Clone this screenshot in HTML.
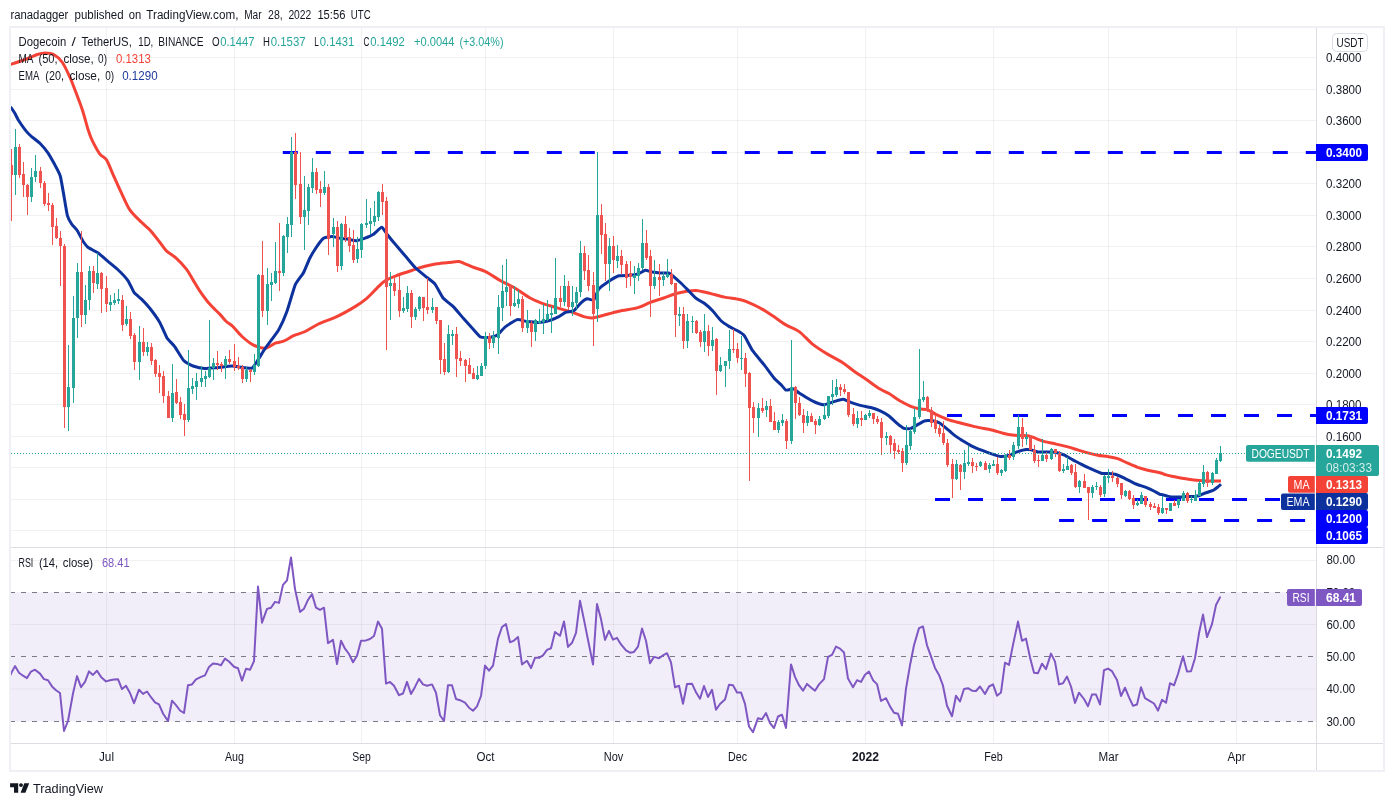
<!DOCTYPE html>
<html><head><meta charset="utf-8"><title>DOGEUSDT</title><style>html,body{margin:0;padding:0;background:#fff;}body{width:1394px;height:806px;overflow:hidden;font-family:"Liberation Sans",sans-serif;}</style></head><body>
<svg width="1394" height="806" viewBox="0 0 1394 806" style="display:block;will-change:transform" font-family="Liberation Sans, sans-serif">
<rect x="0" y="0" width="1394" height="806" fill="#fff"/>
<defs><clipPath id="cp"><rect x="11" y="28" width="1305" height="519"/></clipPath><clipPath id="cr"><rect x="11" y="548" width="1305" height="195"/></clipPath></defs>
<line x1="106.5" y1="28" x2="106.5" y2="743" stroke="#2a2e39" stroke-opacity="0.065" stroke-width="1"/>
<line x1="234.5" y1="28" x2="234.5" y2="743" stroke="#2a2e39" stroke-opacity="0.065" stroke-width="1"/>
<line x1="361.5" y1="28" x2="361.5" y2="743" stroke="#2a2e39" stroke-opacity="0.065" stroke-width="1"/>
<line x1="485.5" y1="28" x2="485.5" y2="743" stroke="#2a2e39" stroke-opacity="0.065" stroke-width="1"/>
<line x1="613.5" y1="28" x2="613.5" y2="743" stroke="#2a2e39" stroke-opacity="0.065" stroke-width="1"/>
<line x1="737.5" y1="28" x2="737.5" y2="743" stroke="#2a2e39" stroke-opacity="0.065" stroke-width="1"/>
<line x1="865.5" y1="28" x2="865.5" y2="743" stroke="#2a2e39" stroke-opacity="0.065" stroke-width="1"/>
<line x1="993.5" y1="28" x2="993.5" y2="743" stroke="#2a2e39" stroke-opacity="0.065" stroke-width="1"/>
<line x1="1108.5" y1="28" x2="1108.5" y2="743" stroke="#2a2e39" stroke-opacity="0.065" stroke-width="1"/>
<line x1="1236.5" y1="28" x2="1236.5" y2="743" stroke="#2a2e39" stroke-opacity="0.065" stroke-width="1"/>
<line x1="11" y1="57.5" x2="1316" y2="57.5" stroke="#2a2e39" stroke-opacity="0.065" stroke-width="1"/>
<line x1="11" y1="89.5" x2="1316" y2="89.5" stroke="#2a2e39" stroke-opacity="0.065" stroke-width="1"/>
<line x1="11" y1="120.5" x2="1316" y2="120.5" stroke="#2a2e39" stroke-opacity="0.065" stroke-width="1"/>
<line x1="11" y1="152.5" x2="1316" y2="152.5" stroke="#2a2e39" stroke-opacity="0.065" stroke-width="1"/>
<line x1="11" y1="183.5" x2="1316" y2="183.5" stroke="#2a2e39" stroke-opacity="0.065" stroke-width="1"/>
<line x1="11" y1="215.5" x2="1316" y2="215.5" stroke="#2a2e39" stroke-opacity="0.065" stroke-width="1"/>
<line x1="11" y1="246.5" x2="1316" y2="246.5" stroke="#2a2e39" stroke-opacity="0.065" stroke-width="1"/>
<line x1="11" y1="278.5" x2="1316" y2="278.5" stroke="#2a2e39" stroke-opacity="0.065" stroke-width="1"/>
<line x1="11" y1="310.5" x2="1316" y2="310.5" stroke="#2a2e39" stroke-opacity="0.065" stroke-width="1"/>
<line x1="11" y1="341.5" x2="1316" y2="341.5" stroke="#2a2e39" stroke-opacity="0.065" stroke-width="1"/>
<line x1="11" y1="373.5" x2="1316" y2="373.5" stroke="#2a2e39" stroke-opacity="0.065" stroke-width="1"/>
<line x1="11" y1="404.5" x2="1316" y2="404.5" stroke="#2a2e39" stroke-opacity="0.065" stroke-width="1"/>
<line x1="11" y1="436.5" x2="1316" y2="436.5" stroke="#2a2e39" stroke-opacity="0.065" stroke-width="1"/>
<line x1="11" y1="467.5" x2="1316" y2="467.5" stroke="#2a2e39" stroke-opacity="0.065" stroke-width="1"/>
<line x1="11" y1="499.5" x2="1316" y2="499.5" stroke="#2a2e39" stroke-opacity="0.065" stroke-width="1"/>
<line x1="11" y1="530.5" x2="1316" y2="530.5" stroke="#2a2e39" stroke-opacity="0.065" stroke-width="1"/>
<line x1="11" y1="560.5" x2="1316" y2="560.5" stroke="#2a2e39" stroke-opacity="0.065" stroke-width="1"/>
<line x1="11" y1="624.5" x2="1316" y2="624.5" stroke="#2a2e39" stroke-opacity="0.065" stroke-width="1"/>
<line x1="11" y1="689.0" x2="1316" y2="689.0" stroke="#2a2e39" stroke-opacity="0.065" stroke-width="1"/>
<rect x="11" y="592.3" width="1305" height="129.0" fill="#7e57c2" fill-opacity="0.1"/>
<line x1="10" y1="592.5" x2="1316" y2="592.5" stroke="#787b86" stroke-width="1" stroke-dasharray="5 6"/>
<line x1="10" y1="656.5" x2="1316" y2="656.5" stroke="#787b86" stroke-width="1" stroke-dasharray="5 6"/>
<line x1="10" y1="721.5" x2="1316" y2="721.5" stroke="#787b86" stroke-width="1" stroke-dasharray="5 6"/>
<line x1="282.8" y1="152.5" x2="1316" y2="152.5" stroke="#0000ff" stroke-width="3" stroke-dasharray="15 18" clip-path="url(#cp)"/>
<line x1="947.0" y1="415.5" x2="1316" y2="415.5" stroke="#0000ff" stroke-width="3" stroke-dasharray="15 18" clip-path="url(#cp)"/>
<line x1="935" y1="499.5" x2="1316" y2="499.5" stroke="#0000ff" stroke-width="3" stroke-dasharray="15 18" clip-path="url(#cp)"/>
<line x1="1059.1" y1="520.5" x2="1305.5" y2="520.5" stroke="#0000ff" stroke-width="3" stroke-dasharray="15 18" clip-path="url(#cp)"/>
<path d="M10.5,64.4C12.7,63.7 21.0,61.0 25.0,59.5C29.0,58.0 34.4,55.5 37.4,54.5C40.4,53.5 42.6,53.0 45.0,53.0C47.4,53.0 51.1,53.1 53.7,54.5C56.3,55.9 60.0,59.1 62.4,62.5C64.8,65.9 68.1,73.3 70.0,77.4C71.9,81.5 73.1,85.1 75.0,90.0C76.9,94.9 80.4,104.0 82.4,110.0C84.4,116.0 86.7,125.4 88.2,130.0C89.7,134.6 90.6,137.2 92.4,140.8C94.2,144.4 97.8,151.2 99.9,154.1C102.0,157.0 104.5,156.8 106.5,159.9C108.5,163.0 111.0,169.9 113.2,174.9C115.5,179.9 119.0,187.9 121.5,193.2C124.0,198.4 126.8,205.5 129.8,209.9C132.8,214.3 138.4,219.2 141.5,222.3C144.6,225.4 147.9,227.7 150.6,230.7C153.3,233.7 157.4,239.3 159.8,242.3C162.2,245.3 163.9,248.4 166.4,250.8C168.9,253.2 173.4,255.6 176.4,258.3C179.4,261.0 183.9,265.9 186.4,269.1C188.9,272.3 191.0,276.6 193.0,279.9C195.0,283.2 197.2,287.2 199.7,290.8C202.2,294.4 206.7,300.6 209.7,304.1C212.7,307.6 217.2,311.5 219.7,314.1C222.2,316.7 224.5,319.8 226.3,321.5C228.1,323.2 229.6,323.4 232.0,325.7C234.4,327.9 238.8,333.6 242.0,336.5C245.2,339.4 250.1,343.4 253.6,345.2C257.1,347.0 262.0,348.5 265.3,348.2C268.6,347.9 272.6,344.2 275.3,343.2C278.0,342.1 280.9,342.3 283.6,341.2C286.3,340.1 290.4,337.2 293.6,335.7C296.8,334.2 301.5,333.3 305.2,331.5C308.9,329.7 313.8,326.2 318.5,324.0C323.2,321.8 331.3,319.2 336.8,316.6C342.3,314.0 350.6,309.3 355.1,306.6C359.6,303.9 363.5,301.0 366.8,298.3C370.1,295.6 374.1,290.9 376.8,288.3C379.5,285.7 382.2,282.7 385.1,280.8C388.0,278.9 391.9,277.3 395.9,275.8C399.9,274.3 407.3,271.9 411.7,270.5C416.1,269.1 421.2,267.3 425.0,266.3C428.8,265.3 433.2,264.4 436.7,263.8C440.2,263.2 445.1,262.8 448.3,262.5C451.5,262.2 455.9,261.5 458.3,261.6C460.7,261.7 461.6,262.4 464.0,263.3C466.4,264.2 470.8,266.3 474.0,267.5C477.2,268.7 481.6,269.6 485.6,271.6C489.6,273.6 496.4,278.4 500.6,280.8C504.8,283.2 509.4,284.9 513.9,287.5C518.4,290.1 526.4,295.9 530.6,298.3C534.8,300.7 538.2,301.9 542.2,303.3C546.2,304.7 552.7,306.5 557.2,307.9C561.7,309.3 568.2,311.1 572.2,312.4C576.2,313.7 580.8,315.8 583.8,316.6C586.8,317.4 589.4,318.0 592.1,317.9C594.8,317.8 598.1,316.7 602.1,315.7C606.1,314.7 613.5,312.4 618.8,311.2C624.0,310.0 632.4,309.2 637.1,307.9C641.8,306.6 646.4,303.9 650.4,302.4C654.4,300.9 660.0,299.3 663.7,298.0C667.4,296.7 671.8,294.8 675.3,293.8C678.8,292.8 683.9,291.8 687.0,291.3C690.1,290.8 693.4,290.3 696.0,290.4C698.6,290.5 701.8,291.4 704.3,292.0C706.8,292.6 709.6,293.3 712.6,294.1C715.6,294.9 720.5,296.4 724.3,297.1C728.0,297.9 734.4,298.5 737.6,299.1C740.8,299.7 742.7,300.0 745.9,301.3C749.1,302.6 755.2,305.3 759.2,307.5C763.2,309.7 768.6,313.2 772.6,315.8C776.6,318.4 781.9,322.5 785.9,324.9C789.9,327.3 795.2,328.7 799.2,331.6C803.2,334.5 808.3,340.7 812.5,344.1C816.7,347.5 823.0,351.4 827.5,354.1C832.0,356.8 838.4,359.8 842.4,362.4C846.4,365.0 850.6,368.7 854.1,371.2C857.6,373.7 862.0,376.4 865.7,379.0C869.5,381.6 875.6,386.3 879.1,388.5C882.6,390.7 885.8,391.6 889.0,393.5C892.2,395.4 897.4,399.4 900.7,401.3C904.0,403.2 908.0,405.2 910.7,406.3C913.4,407.4 916.4,408.2 919.0,408.8C921.6,409.4 925.4,409.1 928.0,410.0C930.6,410.9 933.3,413.2 936.3,414.6C939.3,416.0 944.2,418.3 948.0,419.6C951.8,420.9 957.3,422.2 961.3,423.3C965.3,424.4 969.9,425.6 974.6,426.6C979.3,427.7 988.7,429.3 992.9,430.3C997.1,431.3 999.7,432.6 1002.9,433.3C1006.1,434.1 1010.8,434.9 1014.5,435.3C1018.2,435.7 1024.6,435.3 1027.9,435.8C1031.2,436.3 1033.7,437.7 1036.2,438.6C1038.7,439.5 1041.5,440.8 1044.5,441.6C1047.5,442.4 1052.6,443.3 1056.1,444.1C1059.6,444.9 1064.5,446.0 1067.8,446.9C1071.1,447.8 1074.8,449.0 1077.8,449.9C1080.8,450.8 1084.8,452.1 1087.8,452.9C1090.8,453.7 1094.7,454.6 1097.7,455.2C1100.7,455.8 1104.7,456.1 1107.7,456.6C1110.7,457.1 1114.7,457.7 1117.7,458.7C1120.7,459.7 1124.7,461.9 1127.7,463.2C1130.7,464.5 1134.7,466.3 1137.7,467.4C1140.7,468.4 1144.4,469.4 1147.7,470.2C1151.0,471.0 1157.3,472.0 1160.0,472.7C1162.7,473.4 1163.7,474.3 1165.9,474.9C1168.1,475.5 1171.7,476.2 1174.4,476.8C1177.1,477.4 1181.2,478.1 1184.1,478.6C1187.0,479.1 1191.0,479.6 1193.9,479.9C1196.8,480.2 1200.8,480.6 1203.7,480.8C1206.6,481.0 1210.8,481.1 1213.4,481.1C1216.0,481.1 1219.9,481.1 1221.0,481.1" fill="none" stroke="#f44336" stroke-width="3" stroke-linejoin="round" stroke-linecap="butt" clip-path="url(#cp)"/>
<path d="M10.5,106.9C10.9,107.4 14.4,112.6 15.0,113.6C15.6,114.6 17.4,118.6 18.3,120.0C19.2,121.4 25.5,130.3 26.6,131.6C27.7,132.9 30.5,135.7 31.6,136.6C32.7,137.5 38.6,142.0 39.9,143.3C41.2,144.6 47.1,151.6 48.3,153.3C49.5,155.0 53.9,163.1 54.9,164.9C55.9,166.7 59.5,173.6 60.2,175.7C60.9,177.8 62.6,188.4 63.2,191.6C63.8,194.8 66.7,213.1 67.4,215.7C68.1,218.3 70.8,222.8 71.6,224.0C72.4,225.2 76.5,229.3 77.4,230.7C78.3,232.1 82.3,240.2 83.2,241.5C84.1,242.8 87.0,246.6 88.2,247.5C89.4,248.4 96.6,251.9 98.2,253.0C99.8,254.1 106.6,260.2 108.2,261.6C109.8,263.0 116.6,268.5 118.2,270.0C119.8,271.5 126.8,279.0 128.1,280.8C129.4,282.6 132.9,290.9 134.0,292.4C135.1,293.9 140.2,297.8 141.5,299.1C142.8,300.4 148.3,306.3 149.8,308.2C151.3,310.1 158.4,320.0 159.8,322.4C161.2,324.8 166.0,336.3 167.2,338.2C168.4,340.1 173.4,344.8 174.7,346.6C176.0,348.4 182.4,359.2 183.9,360.8C185.4,362.4 191.3,365.4 193.0,366.0C194.7,366.6 202.8,368.5 204.7,368.6C206.6,368.7 214.1,367.9 216.3,367.7C218.5,367.5 229.9,366.0 232.0,366.0C234.1,366.0 240.4,367.4 242.0,367.6C243.6,367.8 250.8,368.6 252.0,368.1C253.2,367.6 255.9,363.1 257.0,361.5C258.1,359.9 263.6,350.7 265.3,348.2C267.0,345.7 276.9,332.8 278.6,329.9C280.3,327.0 285.6,315.2 286.9,311.6C288.2,308.0 293.9,288.0 295.2,284.9C296.5,281.8 302.5,274.6 303.6,272.5C304.7,270.4 308.5,260.9 309.4,259.0C310.3,257.1 314.1,250.7 315.2,249.0C316.3,247.3 322.2,239.2 323.5,238.2C324.8,237.2 330.6,236.5 331.9,236.5C333.2,236.5 338.9,238.0 340.2,238.2C341.5,238.4 347.2,239.1 348.5,239.3C349.8,239.5 355.5,240.8 356.8,240.7C358.1,240.6 363.8,238.7 365.1,238.2C366.4,237.7 372.2,235.2 373.5,234.3C374.8,233.4 380.7,227.3 381.8,227.3C382.9,227.3 385.7,232.6 386.8,234.0C387.9,235.4 394.0,242.8 395.5,244.5C397.0,246.2 403.5,254.0 405.1,255.8C406.7,257.6 413.4,265.8 415.1,267.5C416.8,269.2 424.3,275.3 425.9,276.6C427.5,277.9 433.6,282.4 435.0,284.1C436.4,285.8 441.8,296.5 443.3,298.3C444.8,300.1 451.6,304.9 453.3,306.6C455.0,308.3 462.5,317.4 464.0,319.1C465.5,320.8 471.0,326.8 472.3,328.2C473.6,329.6 479.3,336.3 480.6,337.0C481.9,337.7 487.7,337.6 489.0,337.4C490.3,337.2 496.0,335.8 497.3,334.9C498.6,334.0 504.0,327.8 505.6,326.6C507.2,325.4 515.6,320.0 517.3,319.6C519.0,319.2 525.5,321.4 527.2,321.6C528.9,321.8 537.0,322.5 538.9,322.4C540.8,322.3 548.9,320.7 550.5,320.2C552.1,319.7 557.7,317.2 558.9,316.6C560.1,316.0 564.3,312.9 565.5,312.4C566.7,311.9 572.6,311.5 573.8,310.8C575.0,310.1 579.4,304.3 580.5,303.3C581.6,302.3 586.0,299.1 587.1,298.8C588.2,298.5 592.9,300.7 593.8,299.9C594.7,299.1 597.7,290.5 598.8,289.1C599.9,287.7 605.5,283.6 607.1,282.5C608.7,281.4 616.9,276.4 618.8,275.8C620.7,275.2 628.8,275.5 630.4,275.3C632.0,275.1 637.5,274.0 638.7,273.6C639.9,273.2 644.3,270.4 645.4,270.3C646.5,270.2 650.8,271.8 652.0,272.0C653.2,272.2 659.1,272.9 660.4,273.0C661.7,273.1 667.6,272.7 668.7,273.0C669.8,273.3 672.8,275.8 673.7,276.6C674.6,277.4 679.2,281.5 680.3,282.5C681.4,283.5 685.7,287.8 687.0,289.1C688.3,290.4 694.6,297.2 696.0,298.3C697.4,299.4 703.0,302.3 704.3,303.3C705.6,304.3 711.3,309.4 712.6,310.8C713.9,312.2 719.7,319.5 721.0,320.8C722.3,322.1 728.0,325.8 729.3,326.6C730.6,327.4 736.4,330.1 737.6,330.8C738.8,331.5 743.1,334.1 744.3,335.7C745.5,337.3 751.0,348.4 752.6,350.7C754.2,353.0 762.5,362.7 764.2,364.9C765.9,367.1 772.9,376.6 774.2,378.2C775.5,379.8 780.0,383.5 780.9,384.5C781.8,385.5 784.9,389.7 785.9,390.1C786.9,390.5 792.4,388.9 793.5,389.1C794.6,389.3 798.2,392.4 799.2,393.0C800.2,393.6 804.2,396.2 805.5,397.0C806.8,397.8 814.3,401.9 815.8,402.5C817.3,403.1 822.6,404.9 824.1,404.8C825.6,404.7 832.6,402.0 834.1,401.6C835.6,401.2 842.0,399.2 843.3,399.3C844.6,399.4 849.3,401.9 850.8,402.4C852.3,402.9 860.7,405.5 862.4,405.9C864.1,406.3 870.9,407.6 872.4,408.0C873.9,408.4 879.4,410.5 880.7,411.1C882.0,411.7 887.7,415.0 889.0,416.0C890.3,417.0 896.2,422.6 897.4,423.6C898.6,424.6 902.9,427.9 904.0,428.3C905.1,428.7 909.6,428.9 910.7,428.6C911.8,428.3 916.2,425.5 917.3,424.9C918.4,424.3 923.1,421.5 924.0,421.1C924.9,420.7 927.3,420.4 928.0,420.4C928.7,420.4 932.1,420.6 933.0,420.8C933.9,421.0 938.5,422.4 939.6,423.0C940.7,423.6 945.2,427.4 946.3,428.3C947.4,429.2 951.8,433.2 953.0,434.1C954.2,435.0 959.8,439.0 961.3,439.9C962.8,440.8 969.6,444.9 971.3,445.8C973.0,446.7 981.0,450.0 982.9,450.7C984.8,451.4 993.1,454.4 994.6,454.9C996.1,455.4 1000.0,456.6 1001.2,456.6C1002.4,456.6 1008.2,455.6 1009.5,455.2C1010.8,454.8 1016.6,452.0 1017.9,451.6C1019.2,451.2 1025.1,449.7 1026.2,449.6C1027.3,449.5 1030.3,449.7 1031.2,449.9C1032.1,450.1 1036.5,451.7 1037.8,451.9C1039.1,452.1 1046.3,452.1 1047.8,452.1C1049.3,452.1 1054.8,452.2 1056.1,452.4C1057.4,452.6 1063.2,454.6 1064.5,455.2C1065.8,455.8 1071.5,459.2 1072.8,459.9C1074.1,460.6 1079.8,463.4 1081.1,464.1C1082.4,464.8 1087.8,467.5 1089.4,468.2C1091.0,468.9 1099.5,472.8 1101.1,473.2C1102.7,473.6 1108.2,473.4 1109.4,473.5C1110.6,473.6 1114.8,474.1 1116.0,474.5C1117.2,474.9 1122.8,477.4 1124.4,478.2C1126.0,479.0 1134.3,483.3 1136.0,484.0C1137.7,484.7 1144.5,486.8 1146.0,487.4C1147.5,488.0 1153.2,490.6 1154.3,491.2C1155.4,491.8 1159.4,494.1 1160.0,494.4C1160.6,494.7 1161.5,494.4 1162.2,494.6C1162.9,494.8 1167.3,496.2 1168.3,496.4C1169.3,496.6 1173.4,497.0 1174.4,497.0C1175.4,497.0 1179.5,497.0 1180.5,497.0C1181.5,497.0 1185.5,496.6 1186.6,496.6C1187.7,496.6 1192.9,496.5 1193.9,496.4C1194.9,496.3 1198.0,496.0 1198.8,495.8C1199.6,495.6 1202.9,493.9 1203.7,493.6C1204.5,493.3 1207.7,492.3 1208.5,492.0C1209.3,491.7 1212.7,490.7 1213.4,490.3C1214.1,489.9 1216.5,488.0 1217.1,487.5C1217.7,487.0 1220.7,484.5 1221.0,484.2" fill="none" stroke="#0d329d" stroke-width="3" stroke-linejoin="round" stroke-linecap="butt" clip-path="url(#cp)"/>
<g clip-path="url(#cp)" shape-rendering="crispEdges">
<rect x="11" y="149" width="1" height="72" fill="#ef5350"/>
<rect x="10" y="165" width="3" height="10" fill="#ef5350"/>
<rect x="15" y="129" width="1" height="66" fill="#26a69a"/>
<rect x="14" y="147" width="3" height="28" fill="#26a69a"/>
<rect x="19" y="144" width="1" height="34" fill="#ef5350"/>
<rect x="18" y="147" width="3" height="28" fill="#ef5350"/>
<rect x="23" y="162" width="1" height="35" fill="#ef5350"/>
<rect x="22" y="174" width="3" height="11" fill="#ef5350"/>
<rect x="27" y="184" width="1" height="31" fill="#ef5350"/>
<rect x="26" y="185" width="3" height="12" fill="#ef5350"/>
<rect x="31" y="168" width="1" height="34" fill="#26a69a"/>
<rect x="30" y="177" width="3" height="20" fill="#26a69a"/>
<rect x="35" y="155" width="1" height="27" fill="#26a69a"/>
<rect x="34" y="171" width="3" height="6" fill="#26a69a"/>
<rect x="40" y="167" width="1" height="21" fill="#ef5350"/>
<rect x="39" y="171" width="3" height="12" fill="#ef5350"/>
<rect x="44" y="181" width="1" height="25" fill="#ef5350"/>
<rect x="43" y="183" width="3" height="21" fill="#ef5350"/>
<rect x="48" y="193" width="1" height="18" fill="#ef5350"/>
<rect x="47" y="203" width="3" height="2" fill="#ef5350"/>
<rect x="52" y="203" width="1" height="42" fill="#ef5350"/>
<rect x="51" y="205" width="3" height="22" fill="#ef5350"/>
<rect x="56" y="218" width="1" height="21" fill="#ef5350"/>
<rect x="55" y="226" width="3" height="12" fill="#ef5350"/>
<rect x="60" y="231" width="1" height="55" fill="#ef5350"/>
<rect x="59" y="238" width="3" height="8" fill="#ef5350"/>
<rect x="64" y="244" width="1" height="184" fill="#ef5350"/>
<rect x="63" y="246" width="3" height="161" fill="#ef5350"/>
<rect x="68" y="345" width="1" height="86" fill="#26a69a"/>
<rect x="67" y="387" width="3" height="20" fill="#26a69a"/>
<rect x="73" y="296" width="1" height="107" fill="#26a69a"/>
<rect x="72" y="318" width="3" height="70" fill="#26a69a"/>
<rect x="77" y="263" width="1" height="75" fill="#26a69a"/>
<rect x="76" y="272" width="3" height="46" fill="#26a69a"/>
<rect x="81" y="231" width="1" height="96" fill="#ef5350"/>
<rect x="80" y="272" width="3" height="43" fill="#ef5350"/>
<rect x="85" y="285" width="1" height="39" fill="#26a69a"/>
<rect x="84" y="300" width="3" height="15" fill="#26a69a"/>
<rect x="89" y="266" width="1" height="44" fill="#26a69a"/>
<rect x="88" y="271" width="3" height="29" fill="#26a69a"/>
<rect x="93" y="266" width="1" height="27" fill="#ef5350"/>
<rect x="92" y="271" width="3" height="12" fill="#ef5350"/>
<rect x="97" y="253" width="1" height="36" fill="#26a69a"/>
<rect x="96" y="273" width="3" height="11" fill="#26a69a"/>
<rect x="101" y="272" width="1" height="41" fill="#ef5350"/>
<rect x="100" y="273" width="3" height="16" fill="#ef5350"/>
<rect x="106" y="276" width="1" height="36" fill="#ef5350"/>
<rect x="105" y="288" width="3" height="16" fill="#ef5350"/>
<rect x="110" y="295" width="1" height="16" fill="#26a69a"/>
<rect x="109" y="302" width="3" height="3" fill="#26a69a"/>
<rect x="114" y="293" width="1" height="12" fill="#26a69a"/>
<rect x="113" y="300" width="3" height="3" fill="#26a69a"/>
<rect x="118" y="289" width="1" height="15" fill="#26a69a"/>
<rect x="117" y="299" width="3" height="2" fill="#26a69a"/>
<rect x="122" y="295" width="1" height="36" fill="#ef5350"/>
<rect x="121" y="300" width="3" height="25" fill="#ef5350"/>
<rect x="126" y="306" width="1" height="20" fill="#26a69a"/>
<rect x="125" y="319" width="3" height="5" fill="#26a69a"/>
<rect x="130" y="312" width="1" height="27" fill="#ef5350"/>
<rect x="129" y="319" width="3" height="17" fill="#ef5350"/>
<rect x="134" y="333" width="1" height="37" fill="#ef5350"/>
<rect x="133" y="335" width="3" height="27" fill="#ef5350"/>
<rect x="139" y="326" width="1" height="54" fill="#26a69a"/>
<rect x="138" y="342" width="3" height="20" fill="#26a69a"/>
<rect x="143" y="328" width="1" height="28" fill="#ef5350"/>
<rect x="142" y="342" width="3" height="10" fill="#ef5350"/>
<rect x="147" y="342" width="1" height="14" fill="#26a69a"/>
<rect x="146" y="347" width="3" height="5" fill="#26a69a"/>
<rect x="151" y="343" width="1" height="22" fill="#ef5350"/>
<rect x="150" y="347" width="3" height="14" fill="#ef5350"/>
<rect x="155" y="359" width="1" height="18" fill="#ef5350"/>
<rect x="154" y="360" width="3" height="14" fill="#ef5350"/>
<rect x="159" y="365" width="1" height="28" fill="#ef5350"/>
<rect x="158" y="373" width="3" height="4" fill="#ef5350"/>
<rect x="163" y="371" width="1" height="32" fill="#ef5350"/>
<rect x="162" y="376" width="3" height="20" fill="#ef5350"/>
<rect x="168" y="391" width="1" height="27" fill="#ef5350"/>
<rect x="167" y="396" width="3" height="22" fill="#ef5350"/>
<rect x="172" y="364" width="1" height="58" fill="#26a69a"/>
<rect x="171" y="393" width="3" height="25" fill="#26a69a"/>
<rect x="176" y="379" width="1" height="25" fill="#ef5350"/>
<rect x="175" y="392" width="3" height="11" fill="#ef5350"/>
<rect x="180" y="397" width="1" height="22" fill="#ef5350"/>
<rect x="179" y="402" width="3" height="13" fill="#ef5350"/>
<rect x="184" y="404" width="1" height="32" fill="#ef5350"/>
<rect x="183" y="414" width="3" height="6" fill="#ef5350"/>
<rect x="188" y="350" width="1" height="72" fill="#26a69a"/>
<rect x="187" y="388" width="3" height="32" fill="#26a69a"/>
<rect x="192" y="378" width="1" height="16" fill="#26a69a"/>
<rect x="191" y="386" width="3" height="3" fill="#26a69a"/>
<rect x="196" y="373" width="1" height="27" fill="#26a69a"/>
<rect x="195" y="381" width="3" height="6" fill="#26a69a"/>
<rect x="201" y="366" width="1" height="21" fill="#26a69a"/>
<rect x="200" y="378" width="3" height="4" fill="#26a69a"/>
<rect x="205" y="371" width="1" height="16" fill="#26a69a"/>
<rect x="204" y="376" width="3" height="3" fill="#26a69a"/>
<rect x="209" y="320" width="1" height="58" fill="#26a69a"/>
<rect x="208" y="368" width="3" height="9" fill="#26a69a"/>
<rect x="213" y="358" width="1" height="22" fill="#26a69a"/>
<rect x="212" y="363" width="3" height="5" fill="#26a69a"/>
<rect x="217" y="351" width="1" height="19" fill="#ef5350"/>
<rect x="216" y="363" width="3" height="2" fill="#ef5350"/>
<rect x="221" y="362" width="1" height="10" fill="#ef5350"/>
<rect x="220" y="364" width="3" height="2" fill="#ef5350"/>
<rect x="225" y="356" width="1" height="23" fill="#26a69a"/>
<rect x="224" y="359" width="3" height="7" fill="#26a69a"/>
<rect x="229" y="350" width="1" height="14" fill="#ef5350"/>
<rect x="228" y="359" width="3" height="3" fill="#ef5350"/>
<rect x="234" y="344" width="1" height="27" fill="#ef5350"/>
<rect x="233" y="361" width="3" height="6" fill="#ef5350"/>
<rect x="238" y="357" width="1" height="13" fill="#ef5350"/>
<rect x="237" y="366" width="3" height="2" fill="#ef5350"/>
<rect x="242" y="365" width="1" height="18" fill="#ef5350"/>
<rect x="241" y="367" width="3" height="12" fill="#ef5350"/>
<rect x="246" y="367" width="1" height="15" fill="#26a69a"/>
<rect x="245" y="370" width="3" height="9" fill="#26a69a"/>
<rect x="250" y="369" width="1" height="13" fill="#ef5350"/>
<rect x="249" y="370" width="3" height="2" fill="#ef5350"/>
<rect x="254" y="354" width="1" height="21" fill="#26a69a"/>
<rect x="253" y="365" width="3" height="7" fill="#26a69a"/>
<rect x="258" y="274" width="1" height="93" fill="#26a69a"/>
<rect x="257" y="275" width="3" height="91" fill="#26a69a"/>
<rect x="262" y="241" width="1" height="76" fill="#ef5350"/>
<rect x="261" y="275" width="3" height="36" fill="#ef5350"/>
<rect x="267" y="268" width="1" height="57" fill="#26a69a"/>
<rect x="266" y="284" width="3" height="27" fill="#26a69a"/>
<rect x="271" y="273" width="1" height="28" fill="#26a69a"/>
<rect x="270" y="282" width="3" height="3" fill="#26a69a"/>
<rect x="275" y="242" width="1" height="42" fill="#26a69a"/>
<rect x="274" y="271" width="3" height="12" fill="#26a69a"/>
<rect x="279" y="223" width="1" height="68" fill="#ef5350"/>
<rect x="278" y="271" width="3" height="2" fill="#ef5350"/>
<rect x="283" y="235" width="1" height="41" fill="#26a69a"/>
<rect x="282" y="236" width="3" height="37" fill="#26a69a"/>
<rect x="287" y="217" width="1" height="36" fill="#26a69a"/>
<rect x="286" y="224" width="3" height="13" fill="#26a69a"/>
<rect x="291" y="137" width="1" height="100" fill="#26a69a"/>
<rect x="290" y="152" width="3" height="73" fill="#26a69a"/>
<rect x="295" y="133" width="1" height="66" fill="#ef5350"/>
<rect x="294" y="152" width="3" height="33" fill="#ef5350"/>
<rect x="300" y="152" width="1" height="72" fill="#ef5350"/>
<rect x="299" y="184" width="3" height="33" fill="#ef5350"/>
<rect x="304" y="176" width="1" height="74" fill="#26a69a"/>
<rect x="303" y="210" width="3" height="7" fill="#26a69a"/>
<rect x="308" y="184" width="1" height="41" fill="#26a69a"/>
<rect x="307" y="187" width="3" height="24" fill="#26a69a"/>
<rect x="312" y="158" width="1" height="35" fill="#26a69a"/>
<rect x="311" y="172" width="3" height="16" fill="#26a69a"/>
<rect x="316" y="168" width="1" height="26" fill="#ef5350"/>
<rect x="315" y="172" width="3" height="18" fill="#ef5350"/>
<rect x="320" y="181" width="1" height="26" fill="#ef5350"/>
<rect x="319" y="189" width="3" height="4" fill="#ef5350"/>
<rect x="324" y="171" width="1" height="24" fill="#26a69a"/>
<rect x="323" y="187" width="3" height="6" fill="#26a69a"/>
<rect x="328" y="184" width="1" height="71" fill="#ef5350"/>
<rect x="327" y="187" width="3" height="52" fill="#ef5350"/>
<rect x="333" y="218" width="1" height="29" fill="#26a69a"/>
<rect x="332" y="227" width="3" height="7" fill="#26a69a"/>
<rect x="337" y="221" width="1" height="51" fill="#ef5350"/>
<rect x="336" y="227" width="3" height="39" fill="#ef5350"/>
<rect x="341" y="223" width="1" height="47" fill="#26a69a"/>
<rect x="340" y="224" width="3" height="42" fill="#26a69a"/>
<rect x="345" y="216" width="1" height="26" fill="#ef5350"/>
<rect x="344" y="224" width="3" height="14" fill="#ef5350"/>
<rect x="349" y="228" width="1" height="24" fill="#ef5350"/>
<rect x="348" y="237" width="3" height="9" fill="#ef5350"/>
<rect x="353" y="230" width="1" height="33" fill="#ef5350"/>
<rect x="352" y="245" width="3" height="15" fill="#ef5350"/>
<rect x="357" y="237" width="1" height="26" fill="#26a69a"/>
<rect x="356" y="249" width="3" height="10" fill="#26a69a"/>
<rect x="361" y="223" width="1" height="35" fill="#26a69a"/>
<rect x="360" y="224" width="3" height="26" fill="#26a69a"/>
<rect x="366" y="199" width="1" height="29" fill="#26a69a"/>
<rect x="365" y="223" width="3" height="2" fill="#26a69a"/>
<rect x="370" y="208" width="1" height="26" fill="#26a69a"/>
<rect x="369" y="221" width="3" height="3" fill="#26a69a"/>
<rect x="374" y="201" width="1" height="25" fill="#26a69a"/>
<rect x="373" y="216" width="3" height="6" fill="#26a69a"/>
<rect x="378" y="191" width="1" height="30" fill="#26a69a"/>
<rect x="377" y="192" width="3" height="25" fill="#26a69a"/>
<rect x="382" y="184" width="1" height="31" fill="#ef5350"/>
<rect x="381" y="192" width="3" height="10" fill="#ef5350"/>
<rect x="386" y="197" width="1" height="153" fill="#ef5350"/>
<rect x="385" y="201" width="3" height="86" fill="#ef5350"/>
<rect x="390" y="272" width="1" height="48" fill="#26a69a"/>
<rect x="389" y="283" width="3" height="3" fill="#26a69a"/>
<rect x="394" y="278" width="1" height="18" fill="#ef5350"/>
<rect x="393" y="283" width="3" height="8" fill="#ef5350"/>
<rect x="399" y="276" width="1" height="41" fill="#ef5350"/>
<rect x="398" y="290" width="3" height="21" fill="#ef5350"/>
<rect x="403" y="297" width="1" height="16" fill="#26a69a"/>
<rect x="402" y="308" width="3" height="3" fill="#26a69a"/>
<rect x="407" y="286" width="1" height="26" fill="#26a69a"/>
<rect x="406" y="293" width="3" height="16" fill="#26a69a"/>
<rect x="411" y="290" width="1" height="38" fill="#ef5350"/>
<rect x="410" y="293" width="3" height="24" fill="#ef5350"/>
<rect x="415" y="307" width="1" height="13" fill="#26a69a"/>
<rect x="414" y="309" width="3" height="8" fill="#26a69a"/>
<rect x="419" y="296" width="1" height="15" fill="#26a69a"/>
<rect x="418" y="297" width="3" height="12" fill="#26a69a"/>
<rect x="423" y="297" width="1" height="24" fill="#ef5350"/>
<rect x="422" y="297" width="3" height="11" fill="#ef5350"/>
<rect x="427" y="278" width="1" height="36" fill="#ef5350"/>
<rect x="426" y="307" width="3" height="3" fill="#ef5350"/>
<rect x="432" y="298" width="1" height="15" fill="#26a69a"/>
<rect x="431" y="307" width="3" height="3" fill="#26a69a"/>
<rect x="436" y="307" width="1" height="17" fill="#ef5350"/>
<rect x="435" y="307" width="3" height="14" fill="#ef5350"/>
<rect x="440" y="320" width="1" height="54" fill="#ef5350"/>
<rect x="439" y="320" width="3" height="40" fill="#ef5350"/>
<rect x="444" y="343" width="1" height="32" fill="#ef5350"/>
<rect x="443" y="359" width="3" height="13" fill="#ef5350"/>
<rect x="448" y="325" width="1" height="48" fill="#26a69a"/>
<rect x="447" y="334" width="3" height="38" fill="#26a69a"/>
<rect x="452" y="330" width="1" height="15" fill="#26a69a"/>
<rect x="451" y="334" width="3" height="2" fill="#26a69a"/>
<rect x="456" y="327" width="1" height="50" fill="#ef5350"/>
<rect x="455" y="334" width="3" height="25" fill="#ef5350"/>
<rect x="460" y="351" width="1" height="15" fill="#ef5350"/>
<rect x="459" y="358" width="3" height="3" fill="#ef5350"/>
<rect x="465" y="359" width="1" height="23" fill="#ef5350"/>
<rect x="464" y="360" width="3" height="6" fill="#ef5350"/>
<rect x="469" y="358" width="1" height="16" fill="#ef5350"/>
<rect x="468" y="365" width="3" height="9" fill="#ef5350"/>
<rect x="473" y="368" width="1" height="11" fill="#ef5350"/>
<rect x="472" y="373" width="3" height="6" fill="#ef5350"/>
<rect x="477" y="366" width="1" height="14" fill="#26a69a"/>
<rect x="476" y="375" width="3" height="4" fill="#26a69a"/>
<rect x="481" y="363" width="1" height="13" fill="#26a69a"/>
<rect x="480" y="366" width="3" height="10" fill="#26a69a"/>
<rect x="485" y="332" width="1" height="37" fill="#26a69a"/>
<rect x="484" y="336" width="3" height="30" fill="#26a69a"/>
<rect x="489" y="333" width="1" height="16" fill="#ef5350"/>
<rect x="488" y="336" width="3" height="7" fill="#ef5350"/>
<rect x="493" y="331" width="1" height="17" fill="#26a69a"/>
<rect x="492" y="336" width="3" height="7" fill="#26a69a"/>
<rect x="498" y="295" width="1" height="59" fill="#26a69a"/>
<rect x="497" y="307" width="3" height="31" fill="#26a69a"/>
<rect x="502" y="265" width="1" height="56" fill="#26a69a"/>
<rect x="501" y="291" width="3" height="17" fill="#26a69a"/>
<rect x="506" y="259" width="1" height="47" fill="#26a69a"/>
<rect x="505" y="287" width="3" height="5" fill="#26a69a"/>
<rect x="510" y="284" width="1" height="32" fill="#ef5350"/>
<rect x="509" y="287" width="3" height="19" fill="#ef5350"/>
<rect x="514" y="286" width="1" height="21" fill="#26a69a"/>
<rect x="513" y="303" width="3" height="3" fill="#26a69a"/>
<rect x="518" y="290" width="1" height="18" fill="#26a69a"/>
<rect x="517" y="299" width="3" height="5" fill="#26a69a"/>
<rect x="522" y="296" width="1" height="36" fill="#ef5350"/>
<rect x="521" y="299" width="3" height="29" fill="#ef5350"/>
<rect x="527" y="310" width="1" height="23" fill="#26a69a"/>
<rect x="526" y="320" width="3" height="8" fill="#26a69a"/>
<rect x="531" y="321" width="1" height="26" fill="#ef5350"/>
<rect x="530" y="323" width="3" height="9" fill="#ef5350"/>
<rect x="535" y="319" width="1" height="22" fill="#26a69a"/>
<rect x="534" y="320" width="3" height="12" fill="#26a69a"/>
<rect x="539" y="309" width="1" height="15" fill="#26a69a"/>
<rect x="538" y="321" width="3" height="2" fill="#26a69a"/>
<rect x="543" y="304" width="1" height="30" fill="#26a69a"/>
<rect x="542" y="319" width="3" height="3" fill="#26a69a"/>
<rect x="547" y="300" width="1" height="21" fill="#26a69a"/>
<rect x="546" y="314" width="3" height="6" fill="#26a69a"/>
<rect x="551" y="306" width="1" height="27" fill="#26a69a"/>
<rect x="550" y="313" width="3" height="2" fill="#26a69a"/>
<rect x="555" y="258" width="1" height="56" fill="#26a69a"/>
<rect x="554" y="298" width="3" height="16" fill="#26a69a"/>
<rect x="560" y="286" width="1" height="21" fill="#ef5350"/>
<rect x="559" y="298" width="3" height="4" fill="#ef5350"/>
<rect x="564" y="275" width="1" height="31" fill="#26a69a"/>
<rect x="563" y="286" width="3" height="16" fill="#26a69a"/>
<rect x="568" y="281" width="1" height="29" fill="#ef5350"/>
<rect x="567" y="286" width="3" height="21" fill="#ef5350"/>
<rect x="572" y="286" width="1" height="30" fill="#26a69a"/>
<rect x="571" y="302" width="3" height="5" fill="#26a69a"/>
<rect x="576" y="287" width="1" height="22" fill="#26a69a"/>
<rect x="575" y="292" width="3" height="11" fill="#26a69a"/>
<rect x="580" y="241" width="1" height="56" fill="#26a69a"/>
<rect x="579" y="253" width="3" height="39" fill="#26a69a"/>
<rect x="584" y="246" width="1" height="34" fill="#ef5350"/>
<rect x="583" y="253" width="3" height="18" fill="#ef5350"/>
<rect x="588" y="255" width="1" height="36" fill="#ef5350"/>
<rect x="587" y="270" width="3" height="16" fill="#ef5350"/>
<rect x="593" y="272" width="1" height="74" fill="#ef5350"/>
<rect x="592" y="285" width="3" height="29" fill="#ef5350"/>
<rect x="597" y="152" width="1" height="170" fill="#26a69a"/>
<rect x="596" y="215" width="3" height="94" fill="#26a69a"/>
<rect x="601" y="204" width="1" height="50" fill="#ef5350"/>
<rect x="600" y="215" width="3" height="20" fill="#ef5350"/>
<rect x="605" y="223" width="1" height="58" fill="#ef5350"/>
<rect x="604" y="234" width="3" height="30" fill="#ef5350"/>
<rect x="609" y="238" width="1" height="53" fill="#26a69a"/>
<rect x="608" y="246" width="3" height="18" fill="#26a69a"/>
<rect x="613" y="236" width="1" height="37" fill="#ef5350"/>
<rect x="612" y="246" width="3" height="14" fill="#ef5350"/>
<rect x="617" y="245" width="1" height="23" fill="#26a69a"/>
<rect x="616" y="256" width="3" height="5" fill="#26a69a"/>
<rect x="621" y="250" width="1" height="24" fill="#ef5350"/>
<rect x="620" y="256" width="3" height="9" fill="#ef5350"/>
<rect x="626" y="261" width="1" height="27" fill="#ef5350"/>
<rect x="625" y="264" width="3" height="14" fill="#ef5350"/>
<rect x="630" y="261" width="1" height="25" fill="#ef5350"/>
<rect x="629" y="273" width="3" height="4" fill="#ef5350"/>
<rect x="634" y="266" width="1" height="28" fill="#26a69a"/>
<rect x="633" y="275" width="3" height="3" fill="#26a69a"/>
<rect x="638" y="263" width="1" height="18" fill="#26a69a"/>
<rect x="637" y="268" width="3" height="8" fill="#26a69a"/>
<rect x="642" y="219" width="1" height="51" fill="#26a69a"/>
<rect x="641" y="243" width="3" height="25" fill="#26a69a"/>
<rect x="646" y="230" width="1" height="30" fill="#ef5350"/>
<rect x="645" y="243" width="3" height="15" fill="#ef5350"/>
<rect x="650" y="250" width="1" height="67" fill="#ef5350"/>
<rect x="649" y="256" width="3" height="30" fill="#ef5350"/>
<rect x="654" y="260" width="1" height="29" fill="#26a69a"/>
<rect x="653" y="277" width="3" height="9" fill="#26a69a"/>
<rect x="659" y="264" width="1" height="32" fill="#ef5350"/>
<rect x="658" y="277" width="3" height="3" fill="#ef5350"/>
<rect x="663" y="272" width="1" height="14" fill="#26a69a"/>
<rect x="662" y="276" width="3" height="4" fill="#26a69a"/>
<rect x="667" y="259" width="1" height="19" fill="#26a69a"/>
<rect x="666" y="274" width="3" height="3" fill="#26a69a"/>
<rect x="671" y="269" width="1" height="16" fill="#ef5350"/>
<rect x="670" y="274" width="3" height="10" fill="#ef5350"/>
<rect x="675" y="283" width="1" height="54" fill="#ef5350"/>
<rect x="674" y="283" width="3" height="32" fill="#ef5350"/>
<rect x="679" y="307" width="1" height="19" fill="#26a69a"/>
<rect x="678" y="314" width="3" height="2" fill="#26a69a"/>
<rect x="683" y="307" width="1" height="42" fill="#ef5350"/>
<rect x="682" y="314" width="3" height="27" fill="#ef5350"/>
<rect x="687" y="314" width="1" height="34" fill="#26a69a"/>
<rect x="686" y="321" width="3" height="20" fill="#26a69a"/>
<rect x="692" y="316" width="1" height="17" fill="#26a69a"/>
<rect x="691" y="321" width="3" height="1" fill="#26a69a"/>
<rect x="696" y="320" width="1" height="14" fill="#ef5350"/>
<rect x="695" y="321" width="3" height="12" fill="#ef5350"/>
<rect x="700" y="330" width="1" height="17" fill="#ef5350"/>
<rect x="699" y="332" width="3" height="10" fill="#ef5350"/>
<rect x="704" y="314" width="1" height="38" fill="#26a69a"/>
<rect x="703" y="331" width="3" height="11" fill="#26a69a"/>
<rect x="708" y="325" width="1" height="31" fill="#ef5350"/>
<rect x="707" y="331" width="3" height="15" fill="#ef5350"/>
<rect x="712" y="327" width="1" height="24" fill="#26a69a"/>
<rect x="711" y="340" width="3" height="6" fill="#26a69a"/>
<rect x="716" y="338" width="1" height="57" fill="#ef5350"/>
<rect x="715" y="339" width="3" height="32" fill="#ef5350"/>
<rect x="720" y="357" width="1" height="15" fill="#26a69a"/>
<rect x="719" y="365" width="3" height="6" fill="#26a69a"/>
<rect x="725" y="361" width="1" height="26" fill="#26a69a"/>
<rect x="724" y="361" width="3" height="5" fill="#26a69a"/>
<rect x="729" y="330" width="1" height="39" fill="#26a69a"/>
<rect x="728" y="349" width="3" height="12" fill="#26a69a"/>
<rect x="733" y="329" width="1" height="24" fill="#ef5350"/>
<rect x="732" y="349" width="3" height="1" fill="#ef5350"/>
<rect x="737" y="343" width="1" height="20" fill="#ef5350"/>
<rect x="736" y="349" width="3" height="9" fill="#ef5350"/>
<rect x="741" y="336" width="1" height="34" fill="#26a69a"/>
<rect x="740" y="358" width="3" height="1" fill="#26a69a"/>
<rect x="745" y="353" width="1" height="34" fill="#ef5350"/>
<rect x="744" y="358" width="3" height="16" fill="#ef5350"/>
<rect x="749" y="372" width="1" height="109" fill="#ef5350"/>
<rect x="748" y="373" width="3" height="35" fill="#ef5350"/>
<rect x="753" y="402" width="1" height="31" fill="#ef5350"/>
<rect x="752" y="407" width="3" height="11" fill="#ef5350"/>
<rect x="758" y="403" width="1" height="34" fill="#26a69a"/>
<rect x="757" y="408" width="3" height="10" fill="#26a69a"/>
<rect x="762" y="398" width="1" height="15" fill="#ef5350"/>
<rect x="761" y="408" width="3" height="3" fill="#ef5350"/>
<rect x="766" y="401" width="1" height="16" fill="#26a69a"/>
<rect x="765" y="406" width="3" height="4" fill="#26a69a"/>
<rect x="770" y="399" width="1" height="22" fill="#ef5350"/>
<rect x="769" y="406" width="3" height="16" fill="#ef5350"/>
<rect x="774" y="412" width="1" height="18" fill="#ef5350"/>
<rect x="773" y="421" width="3" height="9" fill="#ef5350"/>
<rect x="778" y="420" width="1" height="13" fill="#26a69a"/>
<rect x="777" y="422" width="3" height="8" fill="#26a69a"/>
<rect x="782" y="414" width="1" height="12" fill="#26a69a"/>
<rect x="781" y="420" width="3" height="3" fill="#26a69a"/>
<rect x="786" y="419" width="1" height="30" fill="#ef5350"/>
<rect x="785" y="421" width="3" height="20" fill="#ef5350"/>
<rect x="791" y="340" width="1" height="104" fill="#26a69a"/>
<rect x="790" y="387" width="3" height="54" fill="#26a69a"/>
<rect x="795" y="386" width="1" height="33" fill="#ef5350"/>
<rect x="794" y="387" width="3" height="16" fill="#ef5350"/>
<rect x="799" y="397" width="1" height="19" fill="#ef5350"/>
<rect x="798" y="403" width="3" height="12" fill="#ef5350"/>
<rect x="803" y="409" width="1" height="24" fill="#ef5350"/>
<rect x="802" y="415" width="3" height="8" fill="#ef5350"/>
<rect x="807" y="411" width="1" height="15" fill="#26a69a"/>
<rect x="806" y="416" width="3" height="7" fill="#26a69a"/>
<rect x="811" y="413" width="1" height="9" fill="#ef5350"/>
<rect x="810" y="416" width="3" height="6" fill="#ef5350"/>
<rect x="815" y="419" width="1" height="15" fill="#ef5350"/>
<rect x="814" y="421" width="3" height="4" fill="#ef5350"/>
<rect x="819" y="416" width="1" height="10" fill="#26a69a"/>
<rect x="818" y="419" width="3" height="6" fill="#26a69a"/>
<rect x="824" y="404" width="1" height="16" fill="#26a69a"/>
<rect x="823" y="415" width="3" height="4" fill="#26a69a"/>
<rect x="828" y="396" width="1" height="22" fill="#26a69a"/>
<rect x="827" y="396" width="3" height="20" fill="#26a69a"/>
<rect x="832" y="380" width="1" height="25" fill="#26a69a"/>
<rect x="831" y="394" width="3" height="3" fill="#26a69a"/>
<rect x="836" y="379" width="1" height="18" fill="#26a69a"/>
<rect x="835" y="387" width="3" height="8" fill="#26a69a"/>
<rect x="840" y="384" width="1" height="12" fill="#ef5350"/>
<rect x="839" y="387" width="3" height="3" fill="#ef5350"/>
<rect x="844" y="384" width="1" height="10" fill="#ef5350"/>
<rect x="843" y="389" width="3" height="3" fill="#ef5350"/>
<rect x="848" y="392" width="1" height="25" fill="#ef5350"/>
<rect x="847" y="392" width="3" height="23" fill="#ef5350"/>
<rect x="853" y="408" width="1" height="18" fill="#ef5350"/>
<rect x="852" y="414" width="3" height="10" fill="#ef5350"/>
<rect x="857" y="411" width="1" height="17" fill="#26a69a"/>
<rect x="856" y="418" width="3" height="6" fill="#26a69a"/>
<rect x="861" y="411" width="1" height="15" fill="#ef5350"/>
<rect x="860" y="418" width="3" height="2" fill="#ef5350"/>
<rect x="865" y="414" width="1" height="6" fill="#26a69a"/>
<rect x="864" y="415" width="3" height="5" fill="#26a69a"/>
<rect x="869" y="410" width="1" height="8" fill="#26a69a"/>
<rect x="868" y="413" width="3" height="3" fill="#26a69a"/>
<rect x="873" y="413" width="1" height="11" fill="#ef5350"/>
<rect x="872" y="413" width="3" height="6" fill="#ef5350"/>
<rect x="877" y="416" width="1" height="8" fill="#ef5350"/>
<rect x="876" y="419" width="3" height="3" fill="#ef5350"/>
<rect x="881" y="418" width="1" height="37" fill="#ef5350"/>
<rect x="880" y="422" width="3" height="16" fill="#ef5350"/>
<rect x="886" y="432" width="1" height="13" fill="#26a69a"/>
<rect x="885" y="436" width="3" height="2" fill="#26a69a"/>
<rect x="890" y="435" width="1" height="18" fill="#ef5350"/>
<rect x="889" y="436" width="3" height="9" fill="#ef5350"/>
<rect x="894" y="439" width="1" height="20" fill="#ef5350"/>
<rect x="893" y="443" width="3" height="8" fill="#ef5350"/>
<rect x="898" y="445" width="1" height="9" fill="#ef5350"/>
<rect x="897" y="450" width="3" height="2" fill="#ef5350"/>
<rect x="902" y="448" width="1" height="24" fill="#ef5350"/>
<rect x="901" y="451" width="3" height="12" fill="#ef5350"/>
<rect x="906" y="425" width="1" height="40" fill="#26a69a"/>
<rect x="905" y="445" width="3" height="18" fill="#26a69a"/>
<rect x="910" y="429" width="1" height="21" fill="#26a69a"/>
<rect x="909" y="431" width="3" height="15" fill="#26a69a"/>
<rect x="914" y="408" width="1" height="26" fill="#26a69a"/>
<rect x="913" y="417" width="3" height="15" fill="#26a69a"/>
<rect x="919" y="349" width="1" height="70" fill="#26a69a"/>
<rect x="918" y="399" width="3" height="18" fill="#26a69a"/>
<rect x="923" y="381" width="1" height="21" fill="#26a69a"/>
<rect x="922" y="397" width="3" height="3" fill="#26a69a"/>
<rect x="927" y="396" width="1" height="16" fill="#ef5350"/>
<rect x="926" y="397" width="3" height="14" fill="#ef5350"/>
<rect x="931" y="407" width="1" height="20" fill="#ef5350"/>
<rect x="930" y="410" width="3" height="13" fill="#ef5350"/>
<rect x="935" y="415" width="1" height="18" fill="#ef5350"/>
<rect x="934" y="420" width="3" height="9" fill="#ef5350"/>
<rect x="939" y="425" width="1" height="12" fill="#ef5350"/>
<rect x="938" y="428" width="3" height="6" fill="#ef5350"/>
<rect x="943" y="421" width="1" height="24" fill="#ef5350"/>
<rect x="942" y="433" width="3" height="10" fill="#ef5350"/>
<rect x="947" y="439" width="1" height="28" fill="#ef5350"/>
<rect x="946" y="443" width="3" height="22" fill="#ef5350"/>
<rect x="952" y="459" width="1" height="39" fill="#ef5350"/>
<rect x="951" y="464" width="3" height="15" fill="#ef5350"/>
<rect x="956" y="460" width="1" height="20" fill="#26a69a"/>
<rect x="955" y="464" width="3" height="15" fill="#26a69a"/>
<rect x="960" y="464" width="1" height="26" fill="#ef5350"/>
<rect x="959" y="465" width="3" height="7" fill="#ef5350"/>
<rect x="964" y="450" width="1" height="29" fill="#26a69a"/>
<rect x="963" y="463" width="3" height="9" fill="#26a69a"/>
<rect x="968" y="446" width="1" height="20" fill="#26a69a"/>
<rect x="967" y="462" width="3" height="2" fill="#26a69a"/>
<rect x="972" y="458" width="1" height="15" fill="#ef5350"/>
<rect x="971" y="462" width="3" height="4" fill="#ef5350"/>
<rect x="976" y="463" width="1" height="8" fill="#ef5350"/>
<rect x="975" y="466" width="3" height="1" fill="#ef5350"/>
<rect x="980" y="461" width="1" height="6" fill="#26a69a"/>
<rect x="979" y="462" width="3" height="4" fill="#26a69a"/>
<rect x="985" y="461" width="1" height="9" fill="#ef5350"/>
<rect x="984" y="463" width="3" height="7" fill="#ef5350"/>
<rect x="989" y="463" width="1" height="10" fill="#26a69a"/>
<rect x="988" y="465" width="3" height="4" fill="#26a69a"/>
<rect x="993" y="460" width="1" height="6" fill="#26a69a"/>
<rect x="992" y="464" width="3" height="2" fill="#26a69a"/>
<rect x="997" y="457" width="1" height="18" fill="#ef5350"/>
<rect x="996" y="464" width="3" height="9" fill="#ef5350"/>
<rect x="1001" y="469" width="1" height="7" fill="#26a69a"/>
<rect x="1000" y="470" width="3" height="3" fill="#26a69a"/>
<rect x="1005" y="454" width="1" height="18" fill="#26a69a"/>
<rect x="1004" y="455" width="3" height="16" fill="#26a69a"/>
<rect x="1009" y="450" width="1" height="10" fill="#ef5350"/>
<rect x="1008" y="455" width="3" height="3" fill="#ef5350"/>
<rect x="1013" y="442" width="1" height="18" fill="#26a69a"/>
<rect x="1012" y="445" width="3" height="12" fill="#26a69a"/>
<rect x="1018" y="415" width="1" height="34" fill="#26a69a"/>
<rect x="1017" y="427" width="3" height="19" fill="#26a69a"/>
<rect x="1022" y="418" width="1" height="29" fill="#ef5350"/>
<rect x="1021" y="427" width="3" height="12" fill="#ef5350"/>
<rect x="1026" y="432" width="1" height="13" fill="#26a69a"/>
<rect x="1025" y="437" width="3" height="2" fill="#26a69a"/>
<rect x="1030" y="435" width="1" height="15" fill="#ef5350"/>
<rect x="1029" y="437" width="3" height="13" fill="#ef5350"/>
<rect x="1034" y="445" width="1" height="18" fill="#ef5350"/>
<rect x="1033" y="450" width="3" height="11" fill="#ef5350"/>
<rect x="1038" y="455" width="1" height="12" fill="#ef5350"/>
<rect x="1037" y="460" width="3" height="1" fill="#ef5350"/>
<rect x="1042" y="439" width="1" height="22" fill="#26a69a"/>
<rect x="1041" y="455" width="3" height="6" fill="#26a69a"/>
<rect x="1046" y="452" width="1" height="10" fill="#ef5350"/>
<rect x="1045" y="455" width="3" height="4" fill="#ef5350"/>
<rect x="1051" y="448" width="1" height="12" fill="#26a69a"/>
<rect x="1050" y="449" width="3" height="10" fill="#26a69a"/>
<rect x="1055" y="449" width="1" height="8" fill="#ef5350"/>
<rect x="1054" y="449" width="3" height="4" fill="#ef5350"/>
<rect x="1059" y="451" width="1" height="21" fill="#ef5350"/>
<rect x="1058" y="453" width="3" height="18" fill="#ef5350"/>
<rect x="1063" y="464" width="1" height="9" fill="#26a69a"/>
<rect x="1062" y="469" width="3" height="2" fill="#26a69a"/>
<rect x="1067" y="457" width="1" height="12" fill="#26a69a"/>
<rect x="1066" y="466" width="3" height="4" fill="#26a69a"/>
<rect x="1071" y="464" width="1" height="11" fill="#ef5350"/>
<rect x="1070" y="465" width="3" height="8" fill="#ef5350"/>
<rect x="1075" y="464" width="1" height="24" fill="#ef5350"/>
<rect x="1074" y="472" width="3" height="15" fill="#ef5350"/>
<rect x="1079" y="480" width="1" height="13" fill="#26a69a"/>
<rect x="1078" y="481" width="3" height="6" fill="#26a69a"/>
<rect x="1084" y="474" width="1" height="14" fill="#ef5350"/>
<rect x="1083" y="481" width="3" height="7" fill="#ef5350"/>
<rect x="1088" y="487" width="1" height="33" fill="#ef5350"/>
<rect x="1087" y="487" width="3" height="6" fill="#ef5350"/>
<rect x="1092" y="485" width="1" height="13" fill="#26a69a"/>
<rect x="1091" y="487" width="3" height="6" fill="#26a69a"/>
<rect x="1096" y="482" width="1" height="8" fill="#26a69a"/>
<rect x="1095" y="486" width="3" height="1" fill="#26a69a"/>
<rect x="1100" y="485" width="1" height="12" fill="#ef5350"/>
<rect x="1099" y="487" width="3" height="8" fill="#ef5350"/>
<rect x="1104" y="475" width="1" height="22" fill="#26a69a"/>
<rect x="1103" y="476" width="3" height="18" fill="#26a69a"/>
<rect x="1108" y="469" width="1" height="14" fill="#26a69a"/>
<rect x="1107" y="476" width="3" height="2" fill="#26a69a"/>
<rect x="1112" y="471" width="1" height="11" fill="#ef5350"/>
<rect x="1111" y="476" width="3" height="2" fill="#ef5350"/>
<rect x="1117" y="477" width="1" height="10" fill="#ef5350"/>
<rect x="1116" y="478" width="3" height="6" fill="#ef5350"/>
<rect x="1121" y="483" width="1" height="16" fill="#ef5350"/>
<rect x="1120" y="483" width="3" height="12" fill="#ef5350"/>
<rect x="1125" y="490" width="1" height="7" fill="#26a69a"/>
<rect x="1124" y="491" width="3" height="5" fill="#26a69a"/>
<rect x="1129" y="490" width="1" height="10" fill="#ef5350"/>
<rect x="1128" y="491" width="3" height="8" fill="#ef5350"/>
<rect x="1133" y="495" width="1" height="14" fill="#ef5350"/>
<rect x="1132" y="498" width="3" height="7" fill="#ef5350"/>
<rect x="1137" y="499" width="1" height="7" fill="#26a69a"/>
<rect x="1136" y="503" width="3" height="2" fill="#26a69a"/>
<rect x="1141" y="492" width="1" height="12" fill="#26a69a"/>
<rect x="1140" y="495" width="3" height="9" fill="#26a69a"/>
<rect x="1145" y="496" width="1" height="11" fill="#ef5350"/>
<rect x="1144" y="496" width="3" height="9" fill="#ef5350"/>
<rect x="1150" y="502" width="1" height="8" fill="#ef5350"/>
<rect x="1149" y="504" width="3" height="3" fill="#ef5350"/>
<rect x="1154" y="503" width="1" height="5" fill="#ef5350"/>
<rect x="1153" y="506" width="3" height="2" fill="#ef5350"/>
<rect x="1158" y="504" width="1" height="11" fill="#ef5350"/>
<rect x="1157" y="507" width="3" height="6" fill="#ef5350"/>
<rect x="1162" y="496" width="1" height="18" fill="#26a69a"/>
<rect x="1161" y="508" width="3" height="5" fill="#26a69a"/>
<rect x="1166" y="508" width="1" height="6" fill="#ef5350"/>
<rect x="1165" y="508" width="3" height="2" fill="#ef5350"/>
<rect x="1170" y="503" width="1" height="8" fill="#26a69a"/>
<rect x="1169" y="503" width="3" height="8" fill="#26a69a"/>
<rect x="1174" y="500" width="1" height="6" fill="#ef5350"/>
<rect x="1173" y="503" width="3" height="3" fill="#ef5350"/>
<rect x="1178" y="499" width="1" height="9" fill="#26a69a"/>
<rect x="1177" y="499" width="3" height="6" fill="#26a69a"/>
<rect x="1183" y="491" width="1" height="10" fill="#26a69a"/>
<rect x="1182" y="493" width="3" height="8" fill="#26a69a"/>
<rect x="1187" y="492" width="1" height="11" fill="#ef5350"/>
<rect x="1186" y="493" width="3" height="8" fill="#ef5350"/>
<rect x="1191" y="496" width="1" height="7" fill="#26a69a"/>
<rect x="1190" y="499" width="3" height="1" fill="#26a69a"/>
<rect x="1195" y="490" width="1" height="11" fill="#26a69a"/>
<rect x="1194" y="495" width="3" height="6" fill="#26a69a"/>
<rect x="1199" y="481" width="1" height="15" fill="#26a69a"/>
<rect x="1198" y="483" width="3" height="13" fill="#26a69a"/>
<rect x="1203" y="465" width="1" height="22" fill="#26a69a"/>
<rect x="1202" y="472" width="3" height="12" fill="#26a69a"/>
<rect x="1207" y="471" width="1" height="16" fill="#ef5350"/>
<rect x="1206" y="472" width="3" height="11" fill="#ef5350"/>
<rect x="1212" y="472" width="1" height="13" fill="#26a69a"/>
<rect x="1211" y="473" width="3" height="10" fill="#26a69a"/>
<rect x="1216" y="458" width="1" height="16" fill="#26a69a"/>
<rect x="1215" y="460" width="3" height="14" fill="#26a69a"/>
<rect x="1220" y="446" width="1" height="16" fill="#26a69a"/>
<rect x="1219" y="453" width="3" height="8" fill="#26a69a"/>
</g>
<line x1="11" y1="453.5" x2="1246" y2="453.5" stroke="#26a69a" stroke-width="1" stroke-dasharray="1 2"/>
<polyline points="10.5,675.0 11.0,673.6 15.0,666.1 19.0,672.7 23.0,675.7 27.0,678.1 31.0,671.6 35.0,669.7 40.0,673.6 44.0,679.1 48.0,680.2 52.0,686.4 56.0,690.2 60.0,693.0 64.0,731.0 68.0,721.0 73.0,693.5 77.0,676.1 81.0,687.2 85.0,681.9 89.0,671.4 93.0,674.9 97.0,670.7 101.0,676.9 106.0,681.4 110.0,680.2 114.0,679.4 118.0,679.2 122.0,689.1 126.0,685.7 130.0,693.0 134.0,703.2 139.0,689.7 143.0,693.9 147.0,691.5 151.0,697.2 155.0,702.4 159.0,704.4 163.0,713.5 168.0,721.0 172.0,700.7 176.0,705.2 180.0,710.5 184.0,713.0 188.0,685.2 192.0,684.4 196.0,679.4 201.0,676.9 205.0,675.4 209.0,666.9 213.0,663.6 217.0,663.9 221.0,665.3 225.0,658.6 229.0,661.5 234.0,666.7 238.0,668.3 242.0,680.6 246.0,668.7 250.0,669.8 254.0,661.2 258.0,586.6 262.0,622.7 267.0,608.9 271.0,607.7 275.0,601.9 279.0,602.9 283.0,584.9 287.0,580.3 291.0,557.5 295.0,589.1 300.0,611.9 304.0,608.7 308.0,599.9 312.0,594.1 316.0,607.7 320.0,609.9 324.0,607.7 328.0,643.2 333.0,639.9 337.0,664.0 341.0,640.7 345.0,648.7 349.0,654.0 353.0,662.3 357.0,655.7 361.0,640.7 366.0,640.4 370.0,639.0 374.0,636.0 378.0,621.6 382.0,628.7 386.0,683.6 390.0,681.9 394.0,685.7 399.0,695.2 403.0,693.5 407.0,681.9 411.0,694.0 415.0,686.9 419.0,678.9 423.0,684.4 427.0,685.7 432.0,684.4 436.0,692.7 440.0,715.2 444.0,721.0 448.0,685.2 452.0,685.2 456.0,699.0 460.0,700.2 465.0,702.7 469.0,707.7 473.0,710.7 477.0,706.4 481.0,696.0 485.0,665.6 489.0,670.7 493.0,665.6 498.0,638.6 502.0,627.0 506.0,624.1 510.0,642.3 514.0,640.6 518.0,637.0 522.0,664.4 527.0,660.8 531.0,668.1 535.0,657.8 539.0,657.8 543.0,655.3 547.0,649.9 551.0,648.3 555.0,632.0 560.0,635.8 564.0,621.5 568.0,646.9 572.0,642.8 576.0,632.8 580.0,600.8 584.0,619.9 588.0,639.9 593.0,664.5 597.0,604.1 601.0,619.1 605.0,639.9 609.0,630.8 613.0,639.6 617.0,637.9 621.0,644.4 626.0,650.4 630.0,652.7 634.0,651.9 638.0,646.6 642.0,628.6 646.0,640.8 650.0,663.2 654.0,656.9 659.0,658.2 663.0,655.4 667.0,653.2 671.0,662.4 675.0,687.3 679.0,685.7 683.0,703.7 687.0,684.0 692.0,683.7 696.0,692.3 700.0,698.7 704.0,686.0 708.0,697.0 712.0,689.8 716.0,709.8 720.0,704.0 725.0,699.4 729.0,684.7 733.0,685.2 737.0,692.4 741.0,692.4 745.0,703.9 749.0,726.5 753.0,732.2 758.0,718.2 762.0,719.3 766.0,713.0 770.0,723.2 774.0,728.0 778.0,716.5 782.0,714.7 786.0,728.0 791.0,664.4 795.0,676.9 799.0,685.2 803.0,690.7 807.0,683.9 811.0,687.4 815.0,690.7 819.0,684.4 824.0,679.1 828.0,656.9 832.0,654.9 836.0,646.6 840.0,648.6 844.0,652.4 848.0,678.6 853.0,687.2 857.0,680.2 861.0,681.9 865.0,674.7 869.0,671.6 873.0,680.2 877.0,684.1 881.0,701.0 886.0,698.2 890.0,706.4 894.0,712.7 898.0,713.8 902.0,725.5 906.0,688.6 910.0,665.3 914.0,645.3 919.0,628.1 923.0,626.5 927.0,645.3 931.0,656.4 935.0,667.9 939.0,674.9 943.0,685.7 947.0,705.7 952.0,716.2 956.0,695.7 960.0,701.5 964.0,689.0 968.0,688.2 972.0,690.7 976.0,691.0 980.0,686.5 985.0,694.0 989.0,686.5 993.0,684.4 997.0,695.7 1001.0,692.4 1005.0,662.7 1009.0,664.9 1013.0,644.9 1018.0,621.6 1022.0,640.8 1026.0,638.6 1030.0,657.4 1034.0,672.7 1038.0,673.2 1042.0,663.7 1046.0,669.1 1051.0,653.6 1055.0,661.6 1059.0,684.4 1063.0,683.2 1067.0,676.6 1071.0,686.5 1075.0,702.9 1079.0,692.7 1084.0,699.0 1088.0,706.2 1092.0,694.5 1096.0,694.5 1100.0,704.5 1104.0,670.2 1108.0,668.6 1112.0,671.2 1117.0,679.9 1121.0,696.0 1125.0,687.7 1129.0,697.4 1133.0,705.7 1137.0,704.5 1141.0,687.3 1145.0,698.2 1150.0,701.2 1154.0,703.5 1158.0,710.6 1162.0,699.8 1166.0,702.8 1170.0,683.2 1174.0,685.3 1178.0,674.0 1183.0,656.2 1187.0,671.5 1191.0,671.2 1195.0,658.2 1199.0,633.3 1203.0,614.6 1207.0,637.1 1212.0,624.1 1216.0,605.0 1220.0,597.4" fill="none" stroke="#7e57c2" stroke-width="2" stroke-linejoin="round" stroke-linecap="round" clip-path="url(#cr)" />
<rect x="11" y="547" width="1373" height="1" fill="#dcdde2"/>
<rect x="11" y="743" width="1373" height="1" fill="#dcdde2"/>
<rect x="1316" y="28" width="1" height="743" fill="#dcdde2"/>
<rect x="10" y="27" width="1374" height="744" fill="none" stroke="#eef0f6" stroke-width="2"/>
<text x="10.4" y="18.7" font-size="12" fill="#131722" text-anchor="start" font-weight="normal" textLength="58.0" lengthAdjust="spacingAndGlyphs">ranadagger</text>
<text x="74.5" y="18.7" font-size="12" fill="#131722" text-anchor="start" font-weight="normal" textLength="49.1" lengthAdjust="spacingAndGlyphs">published</text>
<text x="128.8" y="18.7" font-size="12" fill="#131722" text-anchor="start" font-weight="normal" textLength="12.5" lengthAdjust="spacingAndGlyphs">on</text>
<text x="146.3" y="18.7" font-size="12" fill="#131722" text-anchor="start" font-weight="normal" textLength="92.1" lengthAdjust="spacingAndGlyphs">TradingView.com,</text>
<text x="244.2" y="18.7" font-size="12" fill="#131722" text-anchor="start" font-weight="normal" textLength="17.4" lengthAdjust="spacingAndGlyphs">Mar</text>
<text x="268" y="18.7" font-size="12" fill="#131722" text-anchor="start" font-weight="normal" textLength="14.7" lengthAdjust="spacingAndGlyphs">28,</text>
<text x="288.4" y="18.7" font-size="12" fill="#131722" text-anchor="start" font-weight="normal" textLength="22.9" lengthAdjust="spacingAndGlyphs">2022</text>
<text x="317.4" y="18.7" font-size="12" fill="#131722" text-anchor="start" font-weight="normal" textLength="28.0" lengthAdjust="spacingAndGlyphs">15:56</text>
<text x="350.8" y="18.7" font-size="12" fill="#131722" text-anchor="start" font-weight="normal" textLength="19.8" lengthAdjust="spacingAndGlyphs">UTC</text>
<text x="18.5" y="45.5" font-size="12" fill="#131722" text-anchor="start" font-weight="normal" textLength="47.7" lengthAdjust="spacingAndGlyphs">Dogecoin</text>
<text x="71.5" y="45.5" font-size="12" fill="#131722" text-anchor="start" font-weight="normal" textLength="4.3" lengthAdjust="spacingAndGlyphs">/</text>
<text x="81.6" y="45.5" font-size="12" fill="#131722" text-anchor="start" font-weight="normal" textLength="50.2" lengthAdjust="spacingAndGlyphs">TetherUS,</text>
<text x="138.3" y="45.5" font-size="12" fill="#131722" text-anchor="start" font-weight="normal" textLength="15.0" lengthAdjust="spacingAndGlyphs">1D,</text>
<text x="158.3" y="45.5" font-size="12" fill="#131722" text-anchor="start" font-weight="normal" textLength="45.2" lengthAdjust="spacingAndGlyphs">BINANCE</text>
<text x="211.9" y="45.5" font-size="12" fill="#131722" text-anchor="start" font-weight="normal" textLength="7.6" lengthAdjust="spacingAndGlyphs">O</text>
<text x="220.2" y="45.5" font-size="12" fill="#26a69a" text-anchor="start" font-weight="normal" textLength="34.4" lengthAdjust="spacingAndGlyphs">0.1447</text>
<text x="263.1" y="45.5" font-size="12" fill="#131722" text-anchor="start" font-weight="normal" textLength="6.9" lengthAdjust="spacingAndGlyphs">H</text>
<text x="270.7" y="45.5" font-size="12" fill="#26a69a" text-anchor="start" font-weight="normal" textLength="34.9" lengthAdjust="spacingAndGlyphs">0.1537</text>
<text x="314.3" y="45.5" font-size="12" fill="#131722" text-anchor="start" font-weight="normal" textLength="4.6" lengthAdjust="spacingAndGlyphs">L</text>
<text x="319.8" y="45.5" font-size="12" fill="#26a69a" text-anchor="start" font-weight="normal" textLength="34.5" lengthAdjust="spacingAndGlyphs">0.1431</text>
<text x="363.5" y="45.5" font-size="12" fill="#131722" text-anchor="start" font-weight="normal" textLength="5.9" lengthAdjust="spacingAndGlyphs">C</text>
<text x="370.3" y="45.5" font-size="12" fill="#26a69a" text-anchor="start" font-weight="normal" textLength="34.5" lengthAdjust="spacingAndGlyphs">0.1492</text>
<text x="414" y="45.5" font-size="12" fill="#26a69a" text-anchor="start" font-weight="normal" textLength="40.4" lengthAdjust="spacingAndGlyphs">+0.0044</text>
<text x="459.4" y="45.5" font-size="12" fill="#26a69a" text-anchor="start" font-weight="normal" textLength="44.1" lengthAdjust="spacingAndGlyphs">(+3.04%)</text>
<text x="18.5" y="63.4" font-size="12" fill="#131722" text-anchor="start" font-weight="normal" textLength="15.0" lengthAdjust="spacingAndGlyphs">MA</text>
<text x="38.5" y="63.4" font-size="12" fill="#131722" text-anchor="start" font-weight="normal" textLength="19.1" lengthAdjust="spacingAndGlyphs">(50,</text>
<text x="63.4" y="63.4" font-size="12" fill="#131722" text-anchor="start" font-weight="normal" textLength="30.4" lengthAdjust="spacingAndGlyphs">close,</text>
<text x="98.1" y="63.4" font-size="12" fill="#131722" text-anchor="start" font-weight="normal" textLength="8.9" lengthAdjust="spacingAndGlyphs">0)</text>
<text x="116" y="63.4" font-size="12" fill="#f44336" text-anchor="start" font-weight="normal" textLength="34.9" lengthAdjust="spacingAndGlyphs">0.1313</text>
<text x="18.5" y="79.9" font-size="12" fill="#131722" text-anchor="start" font-weight="normal" textLength="20.8" lengthAdjust="spacingAndGlyphs">EMA</text>
<text x="45.3" y="79.9" font-size="12" fill="#131722" text-anchor="start" font-weight="normal" textLength="18.6" lengthAdjust="spacingAndGlyphs">(20,</text>
<text x="69.4" y="79.9" font-size="12" fill="#131722" text-anchor="start" font-weight="normal" textLength="30.8" lengthAdjust="spacingAndGlyphs">close,</text>
<text x="105.3" y="79.9" font-size="12" fill="#131722" text-anchor="start" font-weight="normal" textLength="8.9" lengthAdjust="spacingAndGlyphs">0)</text>
<text x="122.2" y="79.9" font-size="12" fill="#1e3a9c" text-anchor="start" font-weight="normal" textLength="35.4" lengthAdjust="spacingAndGlyphs">0.1290</text>
<text x="18.5" y="566.9" font-size="12" fill="#131722" text-anchor="start" font-weight="normal" textLength="14.8" lengthAdjust="spacingAndGlyphs">RSI</text>
<text x="38.9" y="566.9" font-size="12" fill="#131722" text-anchor="start" font-weight="normal" textLength="19.3" lengthAdjust="spacingAndGlyphs">(14,</text>
<text x="62.7" y="566.9" font-size="12" fill="#131722" text-anchor="start" font-weight="normal" textLength="30.4" lengthAdjust="spacingAndGlyphs">close)</text>
<text x="101.9" y="566.9" font-size="12" fill="#7e57c2" text-anchor="start" font-weight="normal" textLength="27.8" lengthAdjust="spacingAndGlyphs">68.41</text>
<text x="1326" y="61.6" font-size="12" fill="#131722" text-anchor="start" font-weight="normal" textLength="35.5" lengthAdjust="spacingAndGlyphs">0.4000</text>
<text x="1326" y="93.6" font-size="12" fill="#131722" text-anchor="start" font-weight="normal" textLength="35.5" lengthAdjust="spacingAndGlyphs">0.3800</text>
<text x="1326" y="124.6" font-size="12" fill="#131722" text-anchor="start" font-weight="normal" textLength="35.5" lengthAdjust="spacingAndGlyphs">0.3600</text>
<text x="1326" y="156.6" font-size="12" fill="#131722" text-anchor="start" font-weight="normal" textLength="35.5" lengthAdjust="spacingAndGlyphs">0.3400</text>
<text x="1326" y="187.6" font-size="12" fill="#131722" text-anchor="start" font-weight="normal" textLength="35.5" lengthAdjust="spacingAndGlyphs">0.3200</text>
<text x="1326" y="219.6" font-size="12" fill="#131722" text-anchor="start" font-weight="normal" textLength="35.5" lengthAdjust="spacingAndGlyphs">0.3000</text>
<text x="1326" y="250.6" font-size="12" fill="#131722" text-anchor="start" font-weight="normal" textLength="35.5" lengthAdjust="spacingAndGlyphs">0.2800</text>
<text x="1326" y="282.6" font-size="12" fill="#131722" text-anchor="start" font-weight="normal" textLength="35.5" lengthAdjust="spacingAndGlyphs">0.2600</text>
<text x="1326" y="314.6" font-size="12" fill="#131722" text-anchor="start" font-weight="normal" textLength="35.5" lengthAdjust="spacingAndGlyphs">0.2400</text>
<text x="1326" y="345.6" font-size="12" fill="#131722" text-anchor="start" font-weight="normal" textLength="35.5" lengthAdjust="spacingAndGlyphs">0.2200</text>
<text x="1326" y="377.6" font-size="12" fill="#131722" text-anchor="start" font-weight="normal" textLength="35.5" lengthAdjust="spacingAndGlyphs">0.2000</text>
<text x="1326" y="408.6" font-size="12" fill="#131722" text-anchor="start" font-weight="normal" textLength="35.5" lengthAdjust="spacingAndGlyphs">0.1800</text>
<text x="1326" y="440.6" font-size="12" fill="#131722" text-anchor="start" font-weight="normal" textLength="35.5" lengthAdjust="spacingAndGlyphs">0.1600</text>
<text x="1326.4" y="563.6" font-size="12" fill="#131722" text-anchor="start" font-weight="normal" textLength="28.8" lengthAdjust="spacingAndGlyphs">80.00</text>
<text x="1326.4" y="596.6" font-size="12" fill="#131722" text-anchor="start" font-weight="normal" textLength="28.8" lengthAdjust="spacingAndGlyphs">70.00</text>
<text x="1326.4" y="628.6" font-size="12" fill="#131722" text-anchor="start" font-weight="normal" textLength="28.8" lengthAdjust="spacingAndGlyphs">60.00</text>
<text x="1326.4" y="660.6" font-size="12" fill="#131722" text-anchor="start" font-weight="normal" textLength="28.8" lengthAdjust="spacingAndGlyphs">50.00</text>
<text x="1326.4" y="693.1" font-size="12" fill="#131722" text-anchor="start" font-weight="normal" textLength="28.8" lengthAdjust="spacingAndGlyphs">40.00</text>
<text x="1326.4" y="725.6" font-size="12" fill="#131722" text-anchor="start" font-weight="normal" textLength="28.8" lengthAdjust="spacingAndGlyphs">30.00</text>
<rect x="1332.5" y="33.5" width="35" height="18" rx="4" fill="#fff" stroke="#d9dce3"/>
<text x="1350" y="46.9" font-size="12" fill="#131722" text-anchor="middle" font-weight="normal" textLength="27" lengthAdjust="spacingAndGlyphs">USDT</text>
<text x="99.0" y="761.0" font-size="12" fill="#131722" text-anchor="start" font-weight="normal" textLength="15" lengthAdjust="spacingAndGlyphs">Jul</text>
<text x="225.0" y="761.0" font-size="12" fill="#131722" text-anchor="start" font-weight="normal" textLength="19" lengthAdjust="spacingAndGlyphs">Aug</text>
<text x="352.25" y="761.0" font-size="12" fill="#131722" text-anchor="start" font-weight="normal" textLength="18.5" lengthAdjust="spacingAndGlyphs">Sep</text>
<text x="476.5" y="761.0" font-size="12" fill="#131722" text-anchor="start" font-weight="normal" textLength="18" lengthAdjust="spacingAndGlyphs">Oct</text>
<text x="603.75" y="761.0" font-size="12" fill="#131722" text-anchor="start" font-weight="normal" textLength="19.5" lengthAdjust="spacingAndGlyphs">Nov</text>
<text x="728.0" y="761.0" font-size="12" fill="#131722" text-anchor="start" font-weight="normal" textLength="19" lengthAdjust="spacingAndGlyphs">Dec</text>
<text x="852.0" y="761.0" font-size="12" fill="#131722" text-anchor="start" font-weight="bold" textLength="27" lengthAdjust="spacingAndGlyphs">2022</text>
<text x="984.25" y="761.0" font-size="12" fill="#131722" text-anchor="start" font-weight="normal" textLength="18.5" lengthAdjust="spacingAndGlyphs">Feb</text>
<text x="1098.5" y="761.0" font-size="12" fill="#131722" text-anchor="start" font-weight="normal" textLength="20" lengthAdjust="spacingAndGlyphs">Mar</text>
<text x="1227.5" y="761.0" font-size="12" fill="#131722" text-anchor="start" font-weight="normal" textLength="18" lengthAdjust="spacingAndGlyphs">Apr</text>
<path d="M1316,144H1366Q1368,144 1368,146V159Q1368,161 1366,161H1316Z" fill="#0000ff"/>
<text x="1326" y="156.7" font-size="12" fill="#fff" text-anchor="start" font-weight="bold" textLength="36" lengthAdjust="spacingAndGlyphs">0.3400</text>
<path d="M1316,407H1366Q1368,407 1368,409V422Q1368,424 1366,424H1316Z" fill="#0000ff"/>
<text x="1326" y="419.7" font-size="12" fill="#fff" text-anchor="start" font-weight="bold" textLength="36" lengthAdjust="spacingAndGlyphs">0.1731</text>
<path d="M1314.8,445H1248Q1246,445 1246,447V459.8Q1246,461.8 1248,461.8H1314.8Z" fill="#26a69a"/>
<text x="1251.5" y="457.59999999999997" font-size="12" fill="#fff" text-anchor="start" font-weight="normal" textLength="58" lengthAdjust="spacingAndGlyphs">DOGEUSDT</text>
<path d="M1316,445H1377Q1379,445 1379,447V474Q1379,476 1377,476H1316Z" fill="#26a69a"/>
<text x="1326" y="458" font-size="12" fill="#fff" text-anchor="start" font-weight="bold" textLength="36" lengthAdjust="spacingAndGlyphs">0.1492</text>
<text x="1326" y="472" font-size="12" fill="#d3ede9" text-anchor="start" font-weight="normal" textLength="46" lengthAdjust="spacingAndGlyphs">08:03:33</text>
<rect x="1316" y="462" width="63" height="13.5" fill="#26a69a" fill-opacity="0"/>
<path d="M1314.8,476H1290Q1288,476 1288,478V490.8Q1288,492.8 1290,492.8H1314.8Z" fill="#f44336"/>
<text x="1293.5" y="488.59999999999997" font-size="12" fill="#fff" text-anchor="start" font-weight="normal" textLength="16" lengthAdjust="spacingAndGlyphs">MA</text>
<path d="M1316,476H1366Q1368,476 1368,478V491Q1368,493 1366,493H1316Z" fill="#f44336"/>
<text x="1326" y="488.7" font-size="12" fill="#fff" text-anchor="start" font-weight="bold" textLength="36" lengthAdjust="spacingAndGlyphs">0.1313</text>
<path d="M1314.8,493.4H1283Q1281,493.4 1281,495.4V508Q1281,510 1283,510H1314.8Z" fill="#0d329d"/>
<text x="1286.5" y="505.9" font-size="12" fill="#fff" text-anchor="start" font-weight="normal" textLength="23" lengthAdjust="spacingAndGlyphs">EMA</text>
<path d="M1316,493H1366Q1368,493 1368,495V508Q1368,510 1366,510H1316Z" fill="#0d329d"/>
<text x="1326" y="505.7" font-size="12" fill="#fff" text-anchor="start" font-weight="bold" textLength="36" lengthAdjust="spacingAndGlyphs">0.1290</text>
<path d="M1316,510H1366Q1368,510 1368,512V525Q1368,527 1366,527H1316Z" fill="#0000ff"/>
<text x="1326" y="522.7" font-size="12" fill="#fff" text-anchor="start" font-weight="bold" textLength="36" lengthAdjust="spacingAndGlyphs">0.1200</text>
<path d="M1316,527H1366Q1368,527 1368,529V542Q1368,544 1366,544H1316Z" fill="#0000ff"/>
<text x="1326" y="539.7" font-size="12" fill="#fff" text-anchor="start" font-weight="bold" textLength="36" lengthAdjust="spacingAndGlyphs">0.1065</text>
<path d="M1314.8,589H1289Q1287,589 1287,591V604Q1287,606 1289,606H1314.8Z" fill="#7e57c2"/>
<text x="1292.5" y="601.7" font-size="12" fill="#fff" text-anchor="start" font-weight="normal" textLength="17" lengthAdjust="spacingAndGlyphs">RSI</text>
<path d="M1316,589H1360Q1362,589 1362,591V604Q1362,606 1360,606H1316Z" fill="#7e57c2"/>
<text x="1326" y="601.7" font-size="12" fill="#fff" text-anchor="start" font-weight="bold" textLength="30" lengthAdjust="spacingAndGlyphs">68.41</text>
<g fill="#131722"><path d="M10.1,783.2H18.2V792.7H14V787.3H10.1Z"/><circle cx="21" cy="785.1" r="1.95"/><path d="M24.3,783.2H29.2L25.4,792.7H20.6Z"/></g>
<text x="33" y="793" font-size="13" fill="#131722" text-anchor="start" font-weight="normal" textLength="70" lengthAdjust="spacingAndGlyphs">TradingView</text>
</svg>
</body></html>
